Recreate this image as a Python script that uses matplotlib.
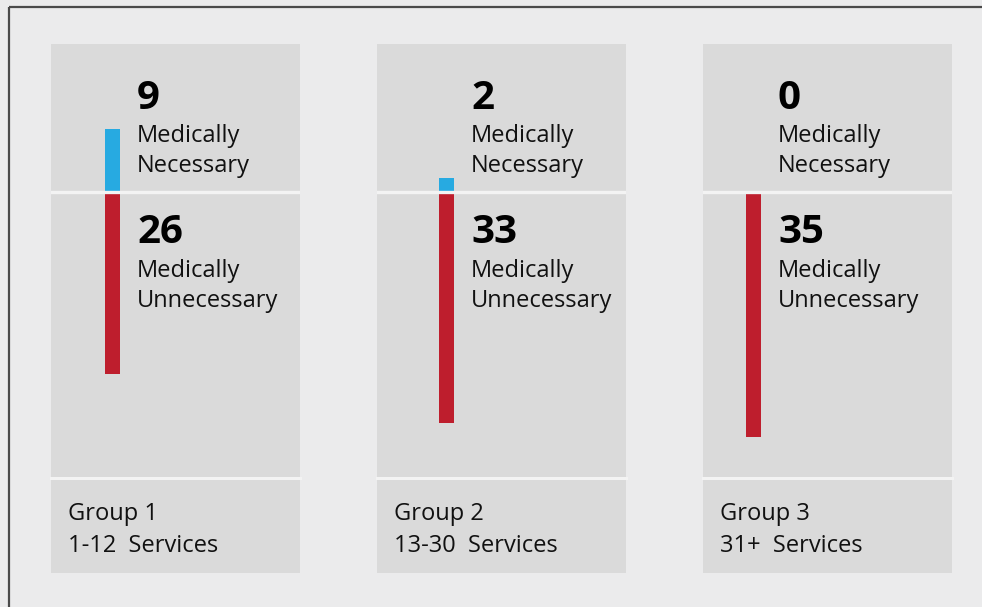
import matplotlib.pyplot as plt
from matplotlib.patches import Rectangle

# data
groups = ['Group 1', 'Group 2', 'Group 3']
ranges = ['1-12  Services', '13-30  Services', '31+  Services']
necessary = [9, 2, 0]
unnecessary = [26, 33, 35]

# colours
bg = '#ebebec'
panel_c = '#dadada'
line_c = '#f3f3f3'
blue = '#27aae1'
red = '#be1e2d'
txt = '#111111'

# layout in pixels (figure is 982 x 607)
W, H = 982, 607
panel_left = [51, 377, 703]
panel_w = 249
bar_off = [54, 62, 43]   # bar left edge relative to panel
bar_w = 15
top, mid, bot = 44, 476, 573
zero_y = 191.5           # the white divider line
px_per_unit = 7.0

plt.rcParams['font.family'] = ['Open Sans', 'DejaVu Sans']

fig = plt.figure(figsize=(W / 100, H / 100), dpi=100, facecolor=bg)
ax = fig.add_axes([0, 0, 1, 1])
ax.set_xlim(0, W)
ax.set_ylim(H, 0)
ax.axis('off')
ax.set_facecolor(bg)

# outer frame (right and bottom fall off the picture)
ax.add_patch(Rectangle((9, 7), W + 20, H + 20, fill=False, ec='#4a4a4a', lw=1.6))

for i in range(3):
    x0 = panel_left[i]
    ax.add_patch(Rectangle((x0, top), panel_w, bot - top, fc=panel_c, ec='none'))
    ax.plot([x0, x0 + panel_w], [477.5, 477.5], color=line_c, lw=2.2)

    # bars in their own axes, y in data units
    pa = fig.add_axes([x0 / W, 1 - mid / H, panel_w / W, (mid - top) / H])
    pa.patch.set_alpha(0)
    pa.axis('off')
    pa.set_xlim(0, panel_w)
    pa.set_ylim(-(mid - zero_y) / px_per_unit, (zero_y - top) / px_per_unit)
    bx = bar_off[i] + bar_w / 2
    pa.bar(bx, necessary[i], width=bar_w, color=blue, zorder=2)
    pa.bar(bx, -unnecessary[i], width=bar_w, color=red, zorder=2)
    pa.axhline(0, color=line_c, lw=2.4, zorder=3)

    tx = x0 + bar_off[i] + bar_w + 17
    ax.text(tx, 109, str(necessary[i]), fontsize=29, fontweight='bold', va='baseline', color='#000000')
    ax.text(tx, 142, 'Medically', fontsize=17, va='baseline', color=txt)
    ax.text(tx, 172, 'Necessary', fontsize=17, va='baseline', color=txt)
    ax.text(tx, 243, str(unnecessary[i]), fontsize=29, fontweight='bold', va='baseline', color='#000000')
    ax.text(tx, 277, 'Medically', fontsize=17, va='baseline', color=txt)
    ax.text(tx, 307, 'Unnecessary', fontsize=17, va='baseline', color=txt)

    ax.text(x0 + 17, 520, groups[i], fontsize=17, va='baseline', color=txt)
    ax.text(x0 + 17, 552, ranges[i], fontsize=17, va='baseline', color=txt)

fig.savefig('out.png', dpi=100, facecolor=bg)
